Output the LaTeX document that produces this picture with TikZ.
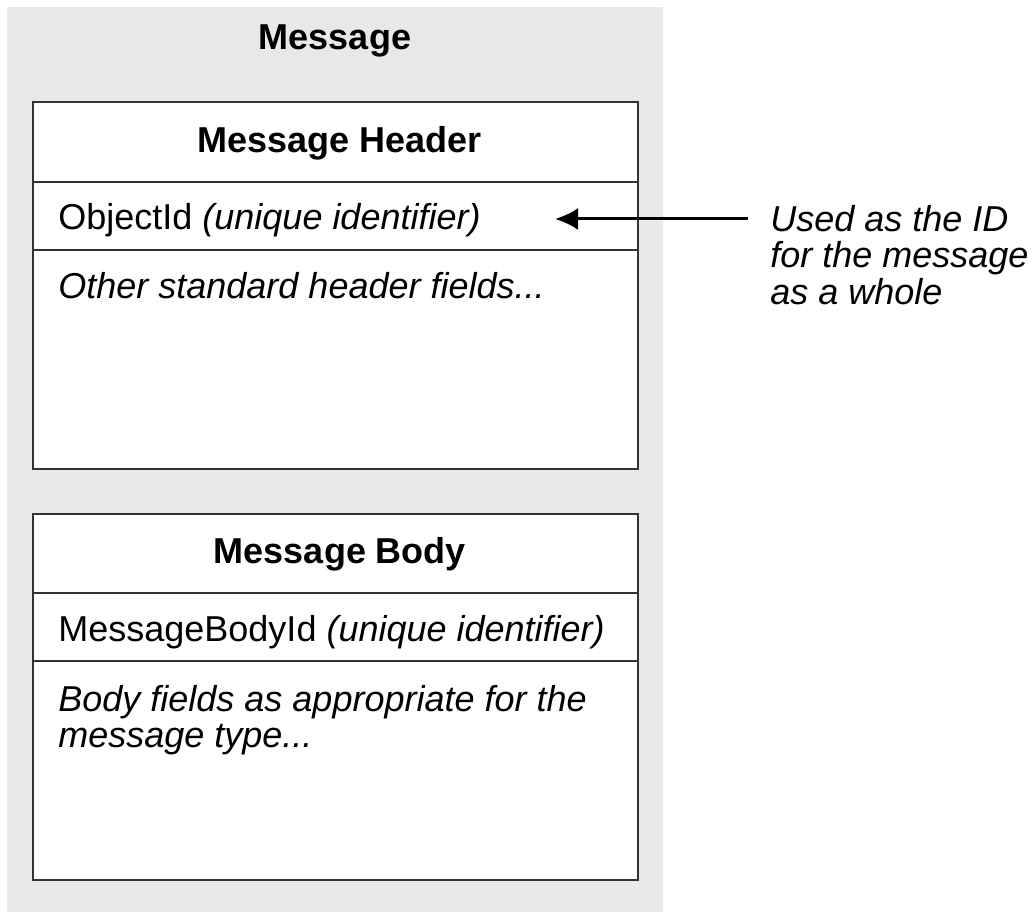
\documentclass[tikz,border=0pt]{standalone}
\usepackage{fontspec}
\setmainfont{Liberation Sans}
\usetikzlibrary{arrows.meta}
\definecolor{panelgray}{HTML}{E8E8E8}
\definecolor{linegray}{HTML}{333333}
\tikzset{
  boxline/.style={draw=linegray, line width=1pt},
  titletext/.style={font=\fontsize{18}{18}\selectfont\bfseries, inner sep=0pt},
  fieldtext/.style={font=\fontsize{18}{18.3}\selectfont, inner sep=0pt, anchor=west, align=left},
  notearrow/.style={line width=1.5pt, -{Latex[length=11.5pt,width=11pt]}}
}
\begin{document}
\begin{tikzpicture}[x=0.5pt, y=-0.5pt]
\useasboundingbox (0,0) rectangle (1035,913);
\fill[panelgray] (7,7) rectangle (663,912);
\node[titletext] (msg) at (335,41) {Message};
% header
\draw[boxline, fill=white] (33,102) rectangle (638,469);
\draw[boxline] (33,182) -- (638,182);
\draw[boxline] (33,250) -- (638,250);
\node[titletext] (hdr) at (340,143) {Message Header};
\node[fieldtext] (objid) at (58,220) {ObjectId \textit{(unique identifier)}};
\node[fieldtext] (hdrfields) at (58,286) {\itshape Other standard header fields...};
% body
\draw[boxline, fill=white] (33,514) rectangle (638,880);
\draw[boxline] (33,593) -- (638,593);
\draw[boxline] (33,661) -- (638,661);
\node[titletext] (body) at (340,554) {Message Body};
\node[fieldtext] (bodyid) at (58,632) {MessageBodyId \textit{(unique identifier)}};
\node[fieldtext] (bodyfields) at (58,720) {\itshape Body fields as appropriate for the\\\itshape message type...};
% note
\node[fieldtext] (note) at (770,255) {\itshape Used as the ID\\\itshape for the message\\\itshape as a whole};
\coordinate (noteend) at (748,219);
\coordinate (objend) at (555,219);
\draw[notearrow] (noteend) -- (objend);
\end{tikzpicture}
\end{document}
